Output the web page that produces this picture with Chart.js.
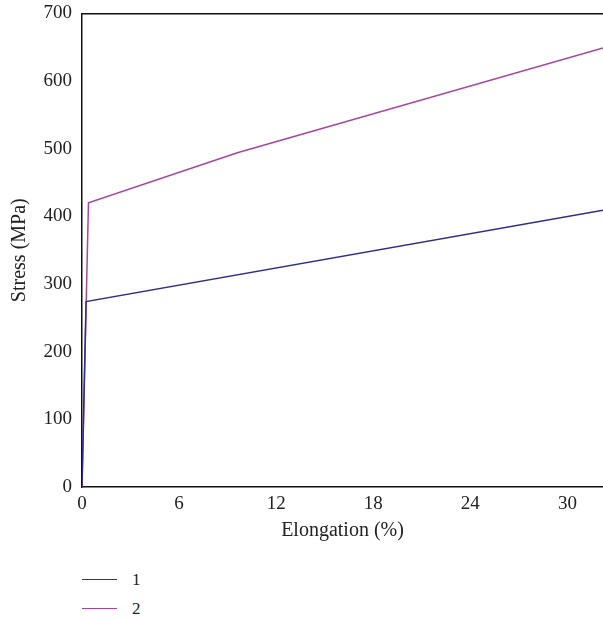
<!DOCTYPE html>
<html>
<head>
<meta charset="utf-8">
<script src="https://cdn.jsdelivr.net/npm/chart.js@4/dist/chart.umd.min.js"></script>
<style>
  body { margin: 0; background: #fff; font-family: "Liberation Serif", serif; }
  #wrap { position: relative; width: 603px; height: 550px; }
  #legend { position: absolute; left: 82px; top: 565px; font-size: 17px; color: #222; }
  .item { display: flex; align-items: center; height: 29px; }
  .swatch { width: 35px; height: 0; border-top: 1.5px solid; margin-right: 15px; }
</style>
</head>
<body>
<div id="wrap"><canvas id="chart"></canvas></div>
<div id="legend"></div>
<script>
// Stress-strain curves
const seriesNames = ['1', '2'];
const elong1 = [0, 0.25, 32.2];
const stress1 = [0, 274, 409];
const elong2 = [0, 0.4, 9.6, 32.2];
const stress2 = [0, 420, 494, 649];
const colors = ['#2e2e92', '#a9449f'];

const xTicks = [0, 6, 12, 18, 24, 30];
const yTicks = [0, 100, 200, 300, 400, 500, 600, 700];

const toPoints = (xs, ys) => xs.map((x, i) => ({ x: x, y: ys[i] }));

const tickFont = { family: 'Liberation Serif', size: 19 };
const titleFont = { family: 'Liberation Serif', size: 20 };

const chart = new Chart(document.getElementById('chart').getContext('2d'), {
    type: 'scatter',
    data: {
        datasets: [
            { label: seriesNames[0], data: toPoints(elong1, stress1), borderColor: colors[0], borderWidth: 1.5, showLine: true, pointRadius: 0, fill: false },
            { label: seriesNames[1], data: toPoints(elong2, stress2), borderColor: colors[1], borderWidth: 1.5, showLine: true, pointRadius: 0, fill: false }
        ]
    },
    options: {
        responsive: true,
        maintainAspectRatio: false,
        animation: false,
        layout: { padding: { top: 10, right: 0, bottom: 0, left: 0 } },
        plugins: { legend: { display: false }, tooltip: { enabled: false } },
        scales: {
            x: {
                type: 'linear',
                min: 0,
                max: 32.2,
                grid: { display: false },
                border: { display: true, color: '#111', width: 1.5 },
                ticks: { color: '#222', font: tickFont, padding: -2 },
                afterBuildTicks: (s) => { s.ticks = xTicks.map(v => ({ value: v })); },
                afterFit: (s) => { s.height = 63; },
                title: { display: true, text: 'Elongation (%)', color: '#222', font: titleFont, padding: { top: 0, bottom: 7 } }
            },
            xTop: {
                type: 'linear',
                position: 'top',
                min: 0,
                max: 32.2,
                grid: { display: false },
                border: { display: true, color: '#111', width: 1.5 },
                ticks: { display: false },
                afterFit: (s) => { s.height = 0; }
            },
            y: {
                min: 0,
                max: 700,
                grid: { display: false },
                border: { display: true, color: '#111', width: 1.5 },
                ticks: { color: '#222', font: tickFont, padding: 2 },
                afterBuildTicks: (s) => { s.ticks = yTicks.map(v => ({ value: v })); },
                afterFit: (s) => { s.width = 82; },
                title: { display: true, text: 'Stress (MPa)', color: '#222', font: titleFont, padding: { top: 8, bottom: 0 } }
            }
        }
    }
});

// legend below the chart, built from the datasets
const legendEl = document.getElementById('legend');
chart.data.datasets.forEach((ds) => {
    const row = document.createElement('div');
    row.className = 'item';
    const sw = document.createElement('span');
    sw.className = 'swatch';
    sw.style.borderColor = ds.borderColor;
    const txt = document.createElement('span');
    txt.innerText = ds.label;
    row.appendChild(sw);
    row.appendChild(txt);
    legendEl.appendChild(row);
});
</script>
</body>
</html>
